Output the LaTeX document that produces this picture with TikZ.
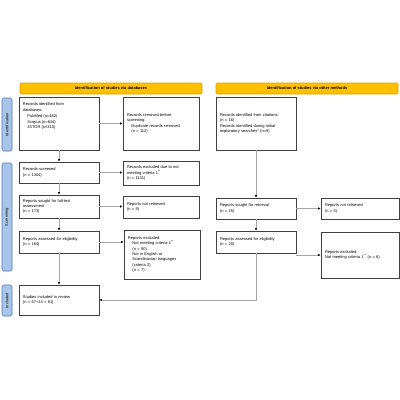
\documentclass[tikz,border=0pt]{standalone}
\usepackage{fontspec}
\setmainfont{Liberation Sans}
\usetikzlibrary{arrows.meta,calc}
\definecolor{hdrfill}{HTML}{FFC000}
\definecolor{hdrline}{HTML}{D9A200}
\definecolor{sidefill}{HTML}{A9C6EA}
\definecolor{sideline}{HTML}{4F78B8}
\newcommand{\sz}{\fontsize{4}{5.4}\selectfont}
\newcommand{\ind}{\hspace*{4.5pt}}
\begin{document}
\begin{tikzpicture}[x=1pt,y=-1pt,
  box/.style={draw=black!75, line width=0.55pt, fill=white, align=left, inner sep=0pt, font=\sz},
  hdr/.style={draw=hdrline, line width=0.6pt, fill=hdrfill, rounded corners=1.2pt, inner sep=0pt, minimum width=182, minimum height=11, font=\fontsize{4}{5}\selectfont\bfseries},
  side/.style={draw=sideline, line width=0.6pt, fill=sidefill, rounded corners=1.5pt, inner sep=0pt, minimum height=10, rotate=90, text=black!80, font=\fontsize{3.8}{5}\selectfont\bfseries},
  conn/.style={draw=black!35, line width=0.6pt, -{Latex[length=2.6pt,width=2.4pt,color=black]}}]
\fill[white] (0,0) rectangle (400,400);
\useasboundingbox (0,0) rectangle (400,400);

% headers
\node[hdr] (h1) at (111,88.5) {Identification of studies via databases};
\node[hdr] (h2) at (307,88.5) {Identification of studies via other methods};

% side labels
\node[side, minimum width=53] (s1) at (7,124.5) {Identification};
\node[side, minimum width=108] (s2) at (7,217) {Screening};
\node[side, minimum width=31] (s3) at (7,300.5) {Included};

% left column
\node[box, minimum width=80, minimum height=53] (id) at (59,123.5) {};
\node[align=left, inner sep=0pt, anchor=north west, font=\sz] (idtxt) at ($(id.north west)+(4,6)$)
  {Records identified from\\databases:\\[1pt]\ind PubMed (n=462)\\\ind Scopus (n=644)\\\ind JSTOR (n=310)};
\node[box, minimum width=76, minimum height=53, text width=68] (rm) at (161,123.5)
  {Records removed before\\screening:\\\ind Duplicate records removed\\\ind (n = 112)};

\node[box, minimum width=80, minimum height=21, text width=72] (sc) at (59,172.5)
  {Records screened\\(n = 1304)};
\node[box, minimum width=76, minimum height=24, text width=68] (ex1) at (161,173)
  {Records excluded due to not\\meeting criteria 1\textsuperscript{**}\\(n = 1131)};

\node[box, minimum width=80, minimum height=23, text width=72] (so) at (59,206.5)
  {Reports sought for full-text\\assessment\\(n = 173)};
\node[box, minimum width=76, minimum height=22, text width=68] (nr) at (161,207)
  {Reports not retrieved\\(n = 9)};

\node[box, minimum width=80, minimum height=22, text width=72] (as) at (59,242)
  {Reports assessed for eligibility\\(n = 164)};
\node[box, minimum width=76, minimum height=49, text width=68] (ex2) at (162,254.5)
  {Reports excluded:\\\ind Not meeting criteria 1\textsuperscript{**}\\\ind (n = 90)\\\ind Not in English or\\\ind Scandinavian languages\\\ind (criteria 2)\\\ind (n = 7)};

\node[box, minimum width=80, minimum height=30, text width=72] (inc) at (59,300)
  {Studies included in review\\(n = 67+14 = 81)};

% right column
\node[box, minimum width=80, minimum height=53, text width=72] (idR) at (256,123.5)
  {Records identified from citations:\\(n = 16)\\Records identified during initial\\exploratory searches* (n=9)};
\node[box, minimum width=80, minimum height=21, text width=72] (soR) at (256,208.5)
  {Reports sought for retrieval\\(n = 25)};
\node[box, minimum width=78, minimum height=21, text width=70] (nrR) at (360,208.5)
  {Reports not retrieved\\(n = 5)};
\node[box, minimum width=80, minimum height=22, text width=72] (asR) at (256,242)
  {Reports assessed for eligibility\\(n = 20)};
\node[box, minimum width=78, minimum height=46, text width=70] (exR) at (360,255)
  {Reports excluded:\\Not meeting criteria 1\textsuperscript{**} (n = 6)};

% connectors left
\draw[conn] (id.east) -- (rm.west);
\draw[conn] (id.south) -- (sc.north);
\draw[conn] (sc.east) -- (sc.east -| ex1.west);
\draw[conn] (sc.south) -- (so.north);
\draw[conn] (so.east) -- (so.east -| nr.west);
\draw[conn] (so.south) -- (as.north);
\draw[conn] (as.east) -- (as.east -| ex2.west);
\draw[conn] (as.south) -- (inc.north);

% connectors right
\draw[conn] (idR.south) -- (soR.north);
\draw[conn] (soR.east) -- (nrR.west);
\draw[conn] (soR.south) -- (asR.north);
\draw[conn] (exR.west -| asR.east) -- (exR.west);
\draw[conn] (asR.south) |- (inc.east);
\end{tikzpicture}
\end{document}
